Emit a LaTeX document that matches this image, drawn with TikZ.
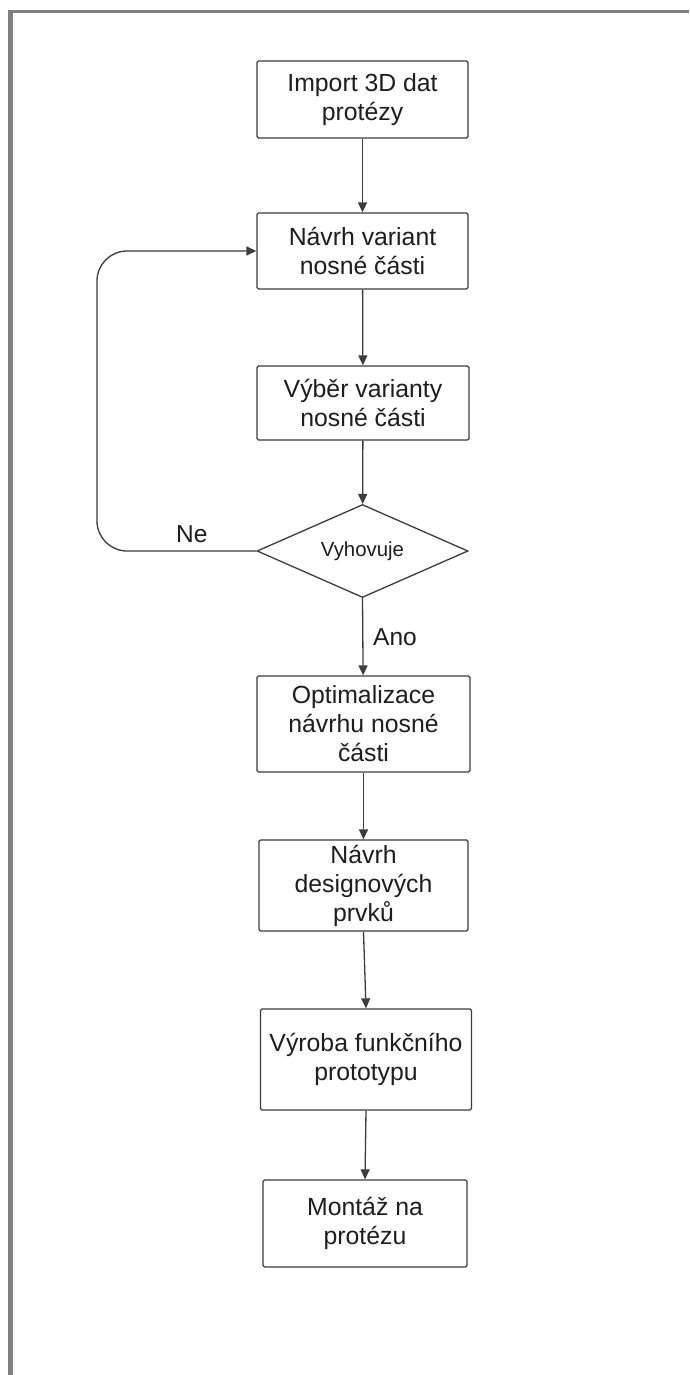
\documentclass[tikz,border=0pt]{standalone}
\usepackage{fontspec}
\setmainfont{Liberation Sans}
\usetikzlibrary{arrows.meta,shapes.geometric}
\definecolor{linec}{HTML}{3C3C3C}
\definecolor{textc}{HTML}{1E1E1E}
\definecolor{framec}{HTML}{808080}
\begin{document}
\begin{tikzpicture}[x=1pt,y=-1pt,
  box/.style={draw=linec, line width=1.3pt, rounded corners=1.5pt, inner sep=0pt,
    align=center, text=textc, font=\fontsize{24.8}{29}\selectfont},
  dec/.style={draw=linec, line width=1.3pt, shape=diamond, inner sep=0pt, aspect=2.27,
    text=textc, font=\fontsize{20.4}{24}\selectfont},
  arr/.style={draw=linec, line width=1.3pt, -{Triangle[length=10pt,width=9pt]}},
  lbl/.style={text=textc, font=\fontsize{24.5}{29}\selectfont, inner sep=0pt, anchor=base west},
  frame/.style={draw=framec}]
\useasboundingbox (0,0) rectangle (689,1375);
\fill[white] (0,0) rectangle (689,1375);
% frame
\draw[frame, line width=3pt] (8,12) -- (689,12);
\draw[frame, line width=5pt] (10.5,10.5) -- (10.5,1375);
% nodes
\node[box, minimum width=211, minimum height=77] (b1) at (362.5,99.5) {Import 3D dat\\protézy};
\node[box, minimum width=211, minimum height=76] (b2) at (362.5,251) {Návrh variant\\nosné části};
\node[box, minimum width=212, minimum height=74] (b3) at (363,403) {Výběr varianty\\nosné části};
\node[dec, minimum width=211, minimum height=93] (d) at (362.5,551) {\raisebox{-7pt}{Vyhovuje}};
\node[box, minimum width=213, minimum height=96] (b4) at (363.5,724) {Optimalizace\\návrhu nosné\\části};
\node[box, minimum width=209, minimum height=91] (b5) at (363.5,885.5) {Návrh\\designových\\prvků};
\node[box, minimum width=211, minimum height=101] (b6) at (366,1059.5) {Výroba funkčního\\prototypu};
\node[box, minimum width=204, minimum height=87] (b7) at (365,1223.5) {Montáž na\\protézu};
\coordinate (lb) at (97,551);
\coordinate (lt) at (97,251);
% connectors
\draw[arr] (b1) -- (b2);
\draw[arr] (b2) -- (b3);
\draw[arr] (b3) -- (d);
\draw[arr] (d.south) -- (b4);
\draw[arr] (b4) -- (b5);
\draw[arr] (b5.south) -- (b6.north);
\draw[arr] (b6.south) -- (b7.north);
\draw[arr, rounded corners=30pt] (d.west) -- (lb) -- (lt) -- (b2.west);
% labels
\node[lbl] (ne) at (176,542) {Ne};
\node[lbl] (ano) at (373,645) {Ano};
\end{tikzpicture}
\end{document}
